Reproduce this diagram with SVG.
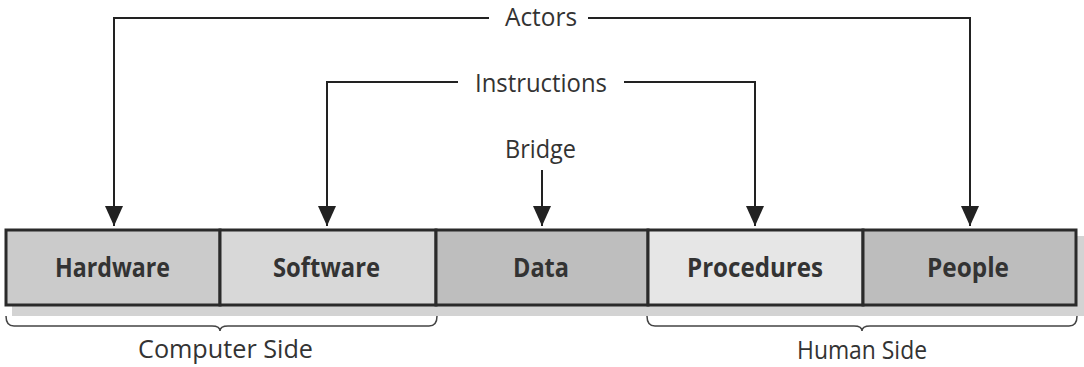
<svg xmlns="http://www.w3.org/2000/svg" width="1084" height="367" viewBox="0 0 1084 367">
<style>
.lbl{font-family:"Open Sans","Noto Sans",sans-serif;font-size:26px;fill:#333;text-anchor:middle}
.bl{font-family:"Open Sans","Noto Sans",sans-serif;font-size:26px;font-weight:bold;fill:#333;text-anchor:middle}
.box{stroke:#2a2a2a;stroke-width:3}
.ln{fill:none;stroke:#222;stroke-width:2}
.br{fill:none;stroke:#444;stroke-width:1.5}
</style>
<defs>
<marker id="ah" viewBox="0 0 20 18" refX="20" refY="9" markerWidth="20" markerHeight="18" markerUnits="userSpaceOnUse" orient="auto">
<path d="M0,0 L20,9 L0,18 Z" fill="#222"/>
</marker>
</defs>
<rect x="12" y="236" width="1072" height="80" fill="#d3d3d3"/>
<g id="hardware"><rect class="box" x="6" y="230" width="214" height="75" fill="#cbcbcb"/><text class="bl" x="112.5" y="277" textLength="115" lengthAdjust="spacingAndGlyphs">Hardware</text></g>
<g id="software"><rect class="box" x="220" y="230" width="216" height="75" fill="#d8d8d8"/><text class="bl" x="326.5" y="277" textLength="107" lengthAdjust="spacingAndGlyphs">Software</text></g>
<g id="data"><rect class="box" x="436" y="230" width="212" height="75" fill="#bebebe"/><text class="bl" x="541" y="277" textLength="56" lengthAdjust="spacingAndGlyphs">Data</text></g>
<g id="procedures"><rect class="box" x="648" y="230" width="215" height="75" fill="#e6e6e6"/><text class="bl" x="755" y="277" textLength="136" lengthAdjust="spacingAndGlyphs">Procedures</text></g>
<g id="people"><rect class="box" x="863" y="230" width="213" height="75" fill="#bdbdbd"/><text class="bl" x="968" y="277" textLength="82" lengthAdjust="spacingAndGlyphs">People</text></g>
<g id="actors"><text class="lbl" x="541" y="26" textLength="72" lengthAdjust="spacingAndGlyphs">Actors</text></g>
<g id="instructions"><text class="lbl" x="541" y="92" textLength="132" lengthAdjust="spacingAndGlyphs">Instructions</text></g>
<g id="bridge"><text class="lbl" x="540.5" y="158" textLength="71" lengthAdjust="spacingAndGlyphs">Bridge</text></g>
<g id="connectors">
<path class="ln" d="M489,18 H114 V226" marker-end="url(#ah)"/>
<path class="ln" d="M588,18 H970 V226" marker-end="url(#ah)"/>
<path class="ln" d="M458,82 H327 V226" marker-end="url(#ah)"/>
<path class="ln" d="M624,82 H755 V226" marker-end="url(#ah)"/>
<path class="ln" d="M542,170 V226" marker-end="url(#ah)"/>
</g>
<g id="computer-side">
<path class="br" d="M6,316 Q6,326 14,326 H212 Q220,326 220,331 Q220,326 228,326 H429 Q437,326 437,316"/>
<text class="lbl" x="225.5" y="358" textLength="175" lengthAdjust="spacingAndGlyphs">Computer Side</text>
</g>
<g id="human-side">
<path class="br" d="M647,316 Q647,326 655,326 H854 Q862,326 862,331 Q862,326 870,326 H1069 Q1077,326 1077,316"/>
<text class="lbl" x="862" y="359" textLength="130" lengthAdjust="spacingAndGlyphs">Human Side</text>
</g>
</svg>
